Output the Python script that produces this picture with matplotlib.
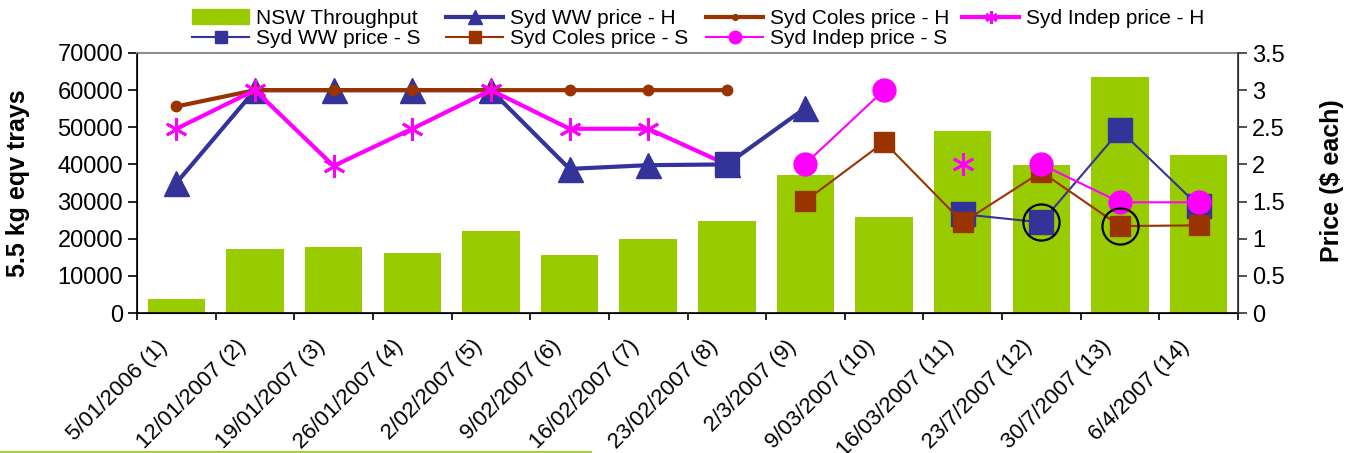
import numpy as np
import matplotlib
matplotlib.use('Agg')
from matplotlib import pyplot as plt
from matplotlib.lines import Line2D
from matplotlib.patches import Patch
import matplotlib.transforms as mtrans

plt.rcParams['font.family'] = ['Liberation Sans', 'DejaVu Sans']

nan = np.nan

# dane
kategorie = ['5/01/2006 (1)', '12/01/2007 (2)', '19/01/2007 (3)', '26/01/2007 (4)',
             '2/02/2007 (5)', '9/02/2007 (6)', '16/02/2007 (7)', '23/02/2007 (8)',
             '2/3/2007 (9)', '9/03/2007 (10)', '16/03/2007 (11)', '23/7/2007 (12)',
             '30/7/2007 (13)', '6/4/2007 (14)']

nsw_throughput = [3700, 17200, 17700, 16100, 22100, 15600, 19900,
                  24800, 37200, 25900, 49000, 39900, 63600, 42500]

ww_h = [1.75, 3.0, 3.0, 3.0, 3.0, 1.94, 1.99, 2.0, 2.76, nan, nan, nan, nan, nan]
coles_h = [2.78, 3.0, 3.0, 3.0, 3.0, 3.0, 3.0, 3.0, nan, nan, nan, nan, nan, nan]
indep_h = [2.48, 3.0, 1.98, 2.48, 3.0, 2.48, 2.48, 2.0, nan, nan, 2.0, nan, nan, nan]
ww_s = [nan, nan, nan, nan, nan, nan, nan, 2.0, nan, nan, 1.33, 1.22, 2.46, 1.44]
coles_s = [nan, nan, nan, nan, nan, nan, nan, nan, 1.51, 2.3, 1.22, 1.9, 1.17, 1.18]
indep_s = [nan, nan, nan, nan, nan, nan, nan, nan, 2.01, 3.0, nan, 2.0, 1.49, 1.49]

# zaznaczone punkty (kolka)
zazn_x = [11, 12]
zazn_y = [ww_s[11], coles_s[12]]

zielony = '#99CC00'
niebieski = '#333399'
brazowy = '#993300'
rozowy = '#FF00FF'

fig = plt.figure(figsize=(13.47, 4.53), dpi=100)
ax = fig.add_axes([137/1347, 1-313/453, 1101/1347, 260/453])
ax2 = ax.twinx()

x = np.arange(len(kategorie))
slupki = ax.bar(x, nsw_throughput, width=0.73, color=zielony, zorder=2)

l_ww_h, = ax2.plot(x, ww_h, color=niebieski, lw=3, marker='^', ms=18)
l_coles_h, = ax2.plot(x, coles_h, color=brazowy, lw=3, marker='o', ms=7.5)
l_indep_h, = ax2.plot(x, indep_h, color=rozowy, lw=3, marker=(6, 2, 0), ms=16, mew=2)
l_ww_s, = ax2.plot(x, ww_s, color=niebieski, lw=1.5, marker='s', ms=17)
l_coles_s, = ax2.plot(x, coles_s, color=brazowy, lw=1.5, marker='s', ms=14.5)
l_indep_s, = ax2.plot(x, indep_s, color=rozowy, lw=1.5, marker='o', ms=16.5)
ax2.plot(zazn_x, zazn_y, ls='none', marker='o', ms=26, mfc='none', mec='black', mew=1.6)

ax.set_xlim(-0.5, len(kategorie) - 0.5)
ax.set_ylim(0, 70000)
ax2.set_ylim(0, 3.5)
ax.set_yticks(np.arange(0, 70001, 10000))
ax2.set_yticks(np.arange(0, 3.51, 0.5))
ax2.set_yticklabels(['0', '0.5', '1', '1.5', '2', '2.5', '3', '3.5'])

ax.set_xticks(x)
ax.set_xticks(np.arange(-0.5, len(kategorie), 1), minor=True)
ax.tick_params(axis='x', which='major', length=0, pad=22)
ax.tick_params(axis='x', which='minor', length=5, width=1.2, direction='out')
ax.tick_params(axis='y', labelsize=17, length=6.5, width=1.2)
ax2.tick_params(axis='y', labelsize=17, length=6.5, width=1.2, colors='#333333', labelcolor='black')
ax.set_xticklabels(kategorie, rotation=45, ha='right', va='center',
                   rotation_mode='anchor', fontsize=16)
# przesuniecie etykiet w lewo (po tick_params, bo ono resetuje transformacje)
przes = mtrans.ScaledTranslation(-12/100, 0, fig.dpi_scale_trans)
for t in ax.get_xticklabels():
    t.set_transform(t.get_transform() + przes)

ax.spines['top'].set_color('#909090')
ax.spines['top'].set_linewidth(1.5)
ax2.spines['top'].set_visible(False)
ax.spines['left'].set_linewidth(1.2)
ax.spines['bottom'].set_linewidth(1.2)
ax2.spines['right'].set_linewidth(1.2)
ax2.spines['right'].set_color('#333333')

ax.set_ylabel('5.5 kg eqv trays', fontsize=18, fontweight='bold')
ax.yaxis.set_label_coords(-0.097, 0.5)
ax2.set_ylabel('Price ($ each)', fontsize=18, fontweight='bold', rotation=90)
ax2.yaxis.set_label_coords(1.0745, 0.51)

# legenda w 4 kolumnach jak w Excelu
kolumny = [
    ([Patch(color=zielony), l_ww_s], ['NSW Throughput', 'Syd WW price - S'], 192),
    ([l_ww_h, l_coles_s], ['Syd WW price - H', 'Syd Coles price - S'], 446),
    ([l_coles_h, l_indep_s], ['Syd Coles price - H', 'Syd Indep price - S'], 706),
    ([l_indep_h], ['Syd Indep price - H'], 962),
]
for uchwyty, opisy, xp in kolumny:
    fig.legend(uchwyty, opisy, loc='upper left', bbox_to_anchor=(xp/1347, 1-9/453),
               frameon=False, fontsize=15, borderpad=0, borderaxespad=0,
               handlelength=2.75, handletextpad=0.3, labelspacing=0.05,
               markerscale=0.55, handleheight=0.7)

fig.add_artist(Line2D([0, 591/1347], [1.5/453, 1.5/453], color='#A6D13A', lw=1.5))

fig.savefig('out.png', dpi=100)
